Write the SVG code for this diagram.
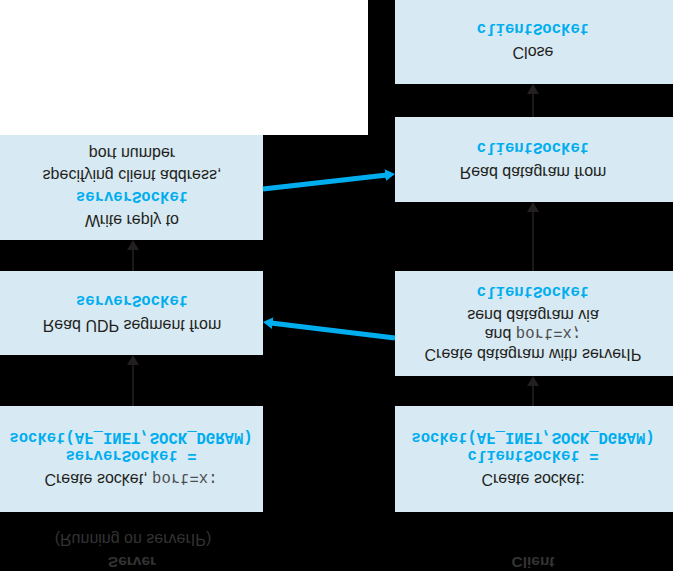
<svg xmlns="http://www.w3.org/2000/svg" width="673" height="571" viewBox="0 0 673 571">
<defs>
<style>
.box{fill:#d7e9f3}
.t{font-family:"Liberation Sans",Arial,sans-serif;font-size:16px;fill:#231f20;text-anchor:middle}
.c{font-family:"Liberation Mono","Courier New",monospace;font-size:15.6px;font-weight:bold;fill:#00aeef;text-anchor:middle}
.m{font-family:"Liberation Mono","Courier New",monospace;font-size:15.6px;font-weight:normal;fill:#4d4d4d}
.lbl{font-family:"Liberation Sans",Arial,sans-serif;font-size:15.5px;font-weight:bold;fill:#333;text-anchor:middle}
.sub{font-family:"Liberation Sans",Arial,sans-serif;font-size:16px;fill:#333;text-anchor:middle}
.k{stroke:#231f20;stroke-width:1.6;fill:none;marker-end:url(#ak)}
.b{stroke:#00aeef;stroke-width:5;fill:none;marker-end:url(#ab)}
</style>
<marker id="ak" markerUnits="userSpaceOnUse" markerWidth="10" markerHeight="12" viewBox="0 0 10 12" refX="2" refY="6" orient="auto">
<path d="M0,0 L10,6 L0,12 z" fill="#231f20"/>
</marker>
<marker id="ab" markerUnits="userSpaceOnUse" markerWidth="10" markerHeight="12" viewBox="0 0 10 12" refX="2" refY="6" orient="auto">
<path d="M0,0 L10,6 L0,12 z" fill="#00aeef"/>
</marker>
</defs>
<rect x="0" y="0" width="673" height="571" fill="#000"/>
<g transform="translate(0,571) scale(1,-1)">
<rect x="0" y="436" width="368" height="135" fill="#fff"/>

<g id="server-label">
<text class="lbl" x="132" y="14">Server</text>
<text class="sub" x="133" y="37">(Running on serverIP)</text>
</g>
<g id="client-label">
<text class="lbl" x="533" y="14">Client</text>
</g>

<g id="server-create">
<rect class="box" x="0" y="59" width="263" height="106"/>
<text class="t" x="131" y="97">Create  socket, <tspan class="m">port=x:</tspan></text>
<text class="c" x="131" y="120">serverSocket =</text>
<text class="c" x="131" y="138">socket(AF_INET,SOCK_DGRAM)</text>
</g>

<g id="client-create">
<rect class="box" x="395" y="59" width="278" height="106"/>
<text class="t" x="533" y="97">Create socket:</text>
<text class="c" x="533" y="120">clientSocket =</text>
<text class="c" x="533" y="138">socket(AF_INET,SOCK_DGRAM)</text>
</g>

<g id="server-read">
<rect class="box" x="0" y="216" width="263" height="84"/>
<text class="t" x="132" y="251">Read UDP segment from</text>
<text class="c" x="132" y="275">serverSocket</text>
</g>

<g id="client-send">
<rect class="box" x="395" y="195" width="278" height="105"/>
<text class="t" x="533" y="222">Create datagram with serverIP</text>
<text class="t" x="533" y="242">and <tspan class="m">port=x;</tspan></text>
<text class="t" x="533" y="261">send datagram via</text>
<text class="c" x="533" y="284">clientSocket</text>
</g>

<g id="server-write">
<rect class="box" x="0" y="331" width="263" height="105"/>
<text class="t" x="132" y="356">Write reply to</text>
<text class="c" x="132" y="379">serverSocket</text>
<text class="t" x="132" y="401">specifying client address,</text>
<text class="t" x="132" y="423">port number</text>
</g>

<g id="client-read">
<rect class="box" x="395" y="369" width="278" height="85"/>
<text class="t" x="533" y="404">Read datagram from</text>
<text class="c" x="533" y="428">clientSocket</text>
</g>

<g id="client-close">
<rect class="box" x="395" y="487" width="278" height="84"/>
<text class="t" x="533" y="524">Close</text>
<text class="c" x="533" y="547">clientSocket</text>
</g>

<g id="connectors">
<line class="k" x1="133" y1="165" x2="133" y2="208"/>
<line class="k" x1="133" y1="300" x2="133" y2="323"/>
<line class="k" x1="533" y1="165" x2="533" y2="187"/>
<line class="k" x1="533" y1="300" x2="533" y2="361"/>
<line class="k" x1="533" y1="454" x2="533" y2="479"/>
<line class="b" x1="395" y1="233" x2="270.9" y2="248"/>
<line class="b" x1="263" y1="382" x2="387.1" y2="396.1"/>
</g>
</g>
</svg>
